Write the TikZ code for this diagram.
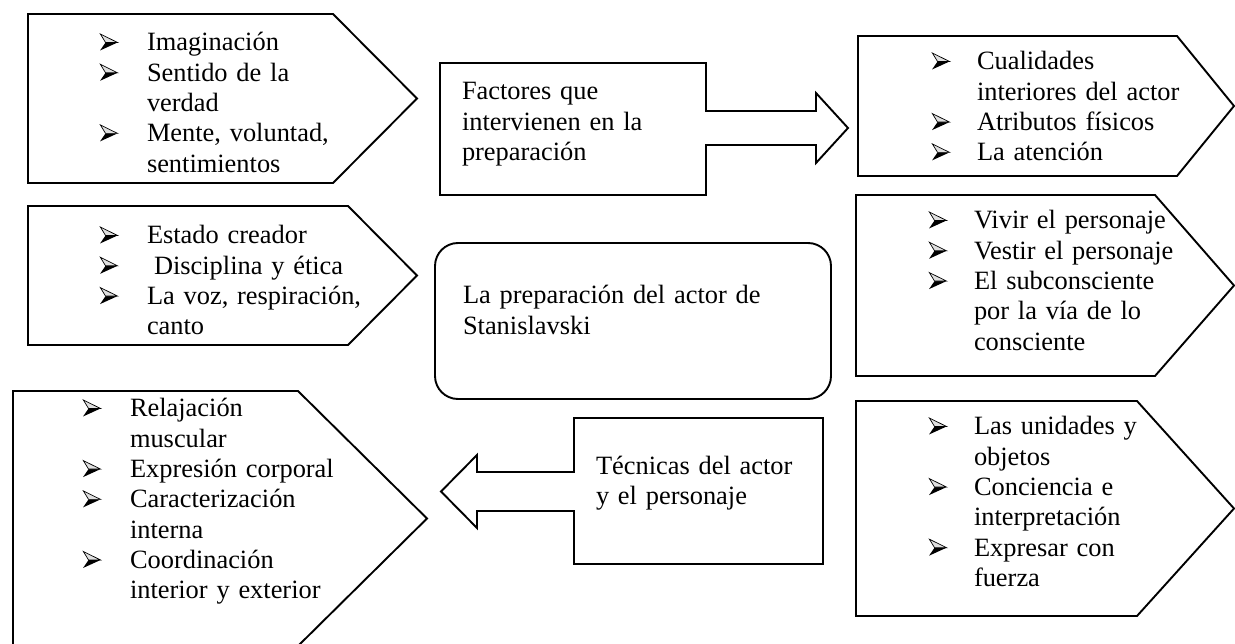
\documentclass[tikz,border=0pt]{standalone}
\usepackage{fontspec}
\setmainfont{Liberation Serif}
\newcommand\arrowhd{\tikz[baseline=0pt,x=1pt,y=1pt]{%
  \fill[black] (0,0.5) -- (17.5,8.5) -- (5.5,8.5) -- cycle;
  \filldraw[fill=gray!25,draw=black,line width=0.7pt,line join=miter] (0.3,17) -- (17.5,8.5) -- (5.5,8.5) -- cycle;}}
\newcommand\mybul[1]{\makebox[#1pt][l]{\arrowhd}}
\newcommand\mycont[1]{\makebox[#1pt]{}}
\tikzset{
  shp/.style={draw=black, line width=1.9pt, line join=miter, miter limit=10},
  txt/.style={anchor=base west, inner sep=0pt, outer sep=0pt, text width=#1, align=left,
    font=\fontsize{26.4}{30.3}\selectfont},
}
\begin{document}
\begin{tikzpicture}[x=1pt,y=-1pt]
\fill[white] (0,0) rectangle (1235,644);
\useasboundingbox (0,0) rectangle (1235,644);
\clip (0,0) rectangle (1235,644);

% shapes
\draw[shp] (28,14) -- (333,14) -- (417,98.5) -- (333,183) -- (28,183) -- cycle;
\draw[shp] (440,63) -- (706,63) -- (706,111) -- (816,111) -- (816,93) -- (848,128)
  -- (816,163) -- (816,145) -- (706,145) -- (706,195) -- (440,195) -- cycle;
\draw[shp] (858,36) -- (1177,36) -- (1234,106) -- (1177,176) -- (858,176) -- cycle;
\draw[shp] (28,206) -- (348,206) -- (417,275.5) -- (348,345) -- (28,345) -- cycle;
\draw[shp, rounded corners=23pt] (435,243) rectangle (831,399);
\draw[shp] (856,195) -- (1155,195) -- (1234,285.5) -- (1155,376) -- (856,376) -- cycle;
\draw[shp] (856,401) -- (1137,401) -- (1234,508.5) -- (1137,616) -- (856,616) -- cycle;
\draw[shp] (13,391) -- (298,391) -- (427,518.5) -- (298,646) -- (13,646) -- cycle;
\draw[shp] (823,418) -- (574,418) -- (574,472) -- (477,472) -- (477,455) -- (441,491.5)
  -- (477,528) -- (477,511) -- (574,511) -- (574,564) -- (823,564) -- cycle;

% texts
\node[txt=320pt] (imag) at (100,51) {\mybul{47}Imaginación\\
  \mybul{47}Sentido de la\\ \mycont{47}verdad\\
  \mybul{47}Mente, voluntad,\\ \mycont{47}sentimientos};
\node[txt=260pt] (fact) at (462,100) {Factores que\\intervienen en la\\preparación};
\node[txt=300pt] (cual) at (932,70) {\mybul{45}Cualidades\\
  \mycont{45}interiores del actor\\ \mybul{45}Atributos físicos\\ \mybul{45}La atención};
\node[txt=320pt] (estado) at (100,244) {\mybul{47}Estado creador\\
  \mybul{47}\hspace{7pt}Disciplina y ética\\ \mybul{47}La voz, respiración,\\
  \mycont{47}canto};
\node[txt=360pt] (stan) at (463,304) {La preparación del actor de\\Stanislavski};
\node[txt=300pt] (vivir) at (929,229) {\mybul{45}Vivir el personaje\\
  \mybul{45}Vestir el personaje\\ \mybul{45}El subconsciente\\
  \mycont{45}por la vía de lo\\ \mycont{45}consciente};
\node[txt=300pt] (unid) at (929,435) {\mybul{45}Las unidades y\\ \mycont{45}objetos\\
  \mybul{45}Conciencia e\\ \mycont{45}interpretación\\ \mybul{45}Expresar con\\
  \mycont{45}fuerza};
\node[txt=330pt] (relaj) at (83,417) {\mybul{47}Relajación\\ \mycont{47}muscular\\
  \mybul{47}Expresión corporal\\ \mybul{47}Caracterización\\ \mycont{47}interna\\
  \mybul{47}Coordinación\\ \mycont{47}interior y exterior};
\node[txt=240pt] (tecn) at (596,474) {Técnicas del actor\\y el personaje};
\end{tikzpicture}
\end{document}
